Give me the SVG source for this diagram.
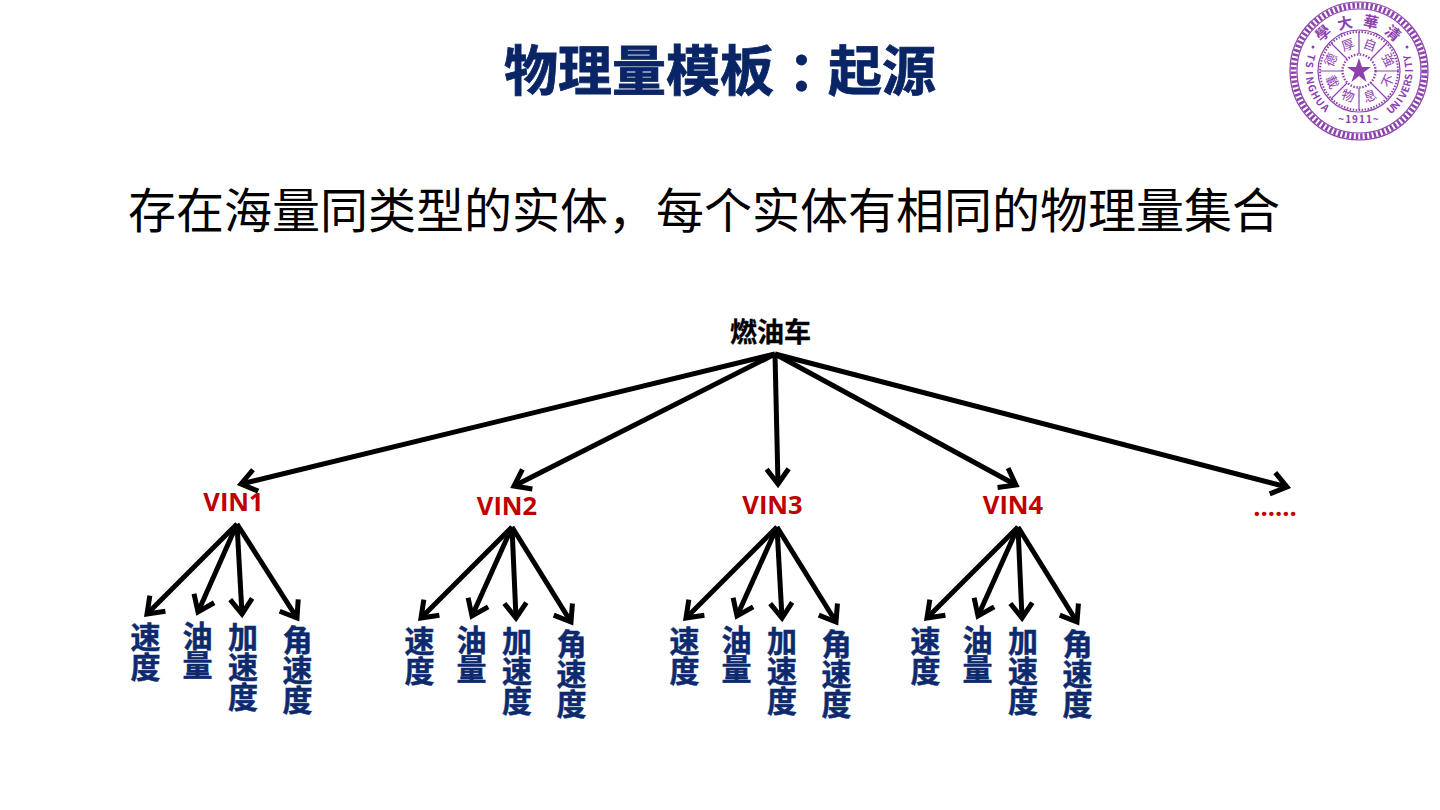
<svg xmlns="http://www.w3.org/2000/svg" width="1440" height="810" viewBox="0 0 1440 810">
<style>
text{font-family:"Noto Sans CJK SC","Noto Sans",sans-serif}
.title{font-size:54px;font-weight:700;fill:#0a2566;stroke:#0a2566;stroke-width:.8}
.sub{font-size:48px;fill:#000}
.root{font-size:27px;font-weight:700;fill:#000;stroke:#000;stroke-width:.3}
.vin{font-family:"Open Sans","Noto Sans",sans-serif;font-size:25.500px;font-weight:700;fill:#c00000;text-anchor:middle}
.leaf{font-size:30px;font-weight:700;fill:#0e2a6e;stroke:#0e2a6e;stroke-width:.5;text-anchor:middle}
.c{fill:none;stroke:#000;stroke-width:5;marker-end:url(#a)}
.s{fill:none;stroke:#8e44ad}
.st{fill:#8e3fb0;text-anchor:middle}
</style>
<defs>
<marker id="a" markerUnits="userSpaceOnUse" markerWidth="30" markerHeight="30" refX="22" refY="15" orient="auto" overflow="visible"><path d="M7 4 L22 15 L7 26" fill="none" stroke="#000" stroke-width="5" stroke-linecap="butt"/></marker>
<g id="leaves1">
<text class="leaf" x="145.500" y="648">速</text><text class="leaf" x="145.500" y="678">度</text>
<text class="leaf" x="197.500" y="647">油</text><text class="leaf" x="197.500" y="676">量</text>
<text class="leaf" x="243" y="648">加</text><text class="leaf" x="243" y="678">速</text><text class="leaf" x="243" y="708">度</text>
<text class="leaf" x="297.500" y="651">角</text><text class="leaf" x="297.500" y="681">速</text><text class="leaf" x="297.500" y="711">度</text>
</g>
</defs>
<rect width="1440" height="810" fill="#fff"/>
<text class="title" x="504 558 612 666 720 788 828 882" y="91">物理量模板：起源</text>
<text class="sub" x="128" y="228">存在海量同类型的实体，每个实体有相同的物理量集合</text>

<g id="connectors">
<path class="c" d="M775 354 L241 484"/>
<path class="c" d="M775 354 L514 486"/>
<path class="c" d="M775 354 L778 484"/>
<path class="c" d="M775 354 L1016 485"/>
<path class="c" d="M775 354 L1287 487"/>
<path class="c" d="M237 524 L147 614"/>
<path class="c" d="M237 524 L198 612"/>
<path class="c" d="M237 524 L242 614"/>
<path class="c" d="M237 524 L297 618"/>
<path class="c" d="M512 527 L421 618"/>
<path class="c" d="M512 527 L472 616"/>
<path class="c" d="M512 527 L516 618"/>
<path class="c" d="M512 527 L571 622"/>
<path class="c" d="M777 527 L686 618"/>
<path class="c" d="M777 527 L737 616"/>
<path class="c" d="M777 527 L782 618"/>
<path class="c" d="M777 527 L836 622"/>
<path class="c" d="M1018 527 L927 618"/>
<path class="c" d="M1018 527 L978 616"/>
<path class="c" d="M1018 527 L1022 618"/>
<path class="c" d="M1018 527 L1077 622"/>
</g>

<g id="root"><text class="root" x="730" y="342">燃油车</text></g>
<g id="vin1"><text class="vin" x="233.500" y="511">VIN1</text></g>
<g id="vin2"><text class="vin" x="507" y="515">VIN2</text></g>
<g id="vin3"><text class="vin" x="772.500" y="514">VIN3</text></g>
<g id="vin4"><text class="vin" x="1013" y="514">VIN4</text></g>
<g id="more"><text class="vin" x="1275" y="516">......</text></g>
<g id="vin1-leaves"><use href="#leaves1"/></g>
<g id="vin2-leaves"><use href="#leaves1" x="274" y="3.500"/></g>
<g id="vin3-leaves"><use href="#leaves1" x="539" y="3.500"/></g>
<g id="vin4-leaves"><use href="#leaves1" x="780" y="3.500"/></g>

<g id="seal">
<circle class="s" cx="1359" cy="71" r="69" stroke-width="1.200"/>
<circle class="s" cx="1359" cy="71" r="65.500" stroke-width="6" stroke-dasharray="2.500 2"/>
<circle class="s" cx="1359" cy="71" r="62" stroke-width="1.200"/>
<circle class="s" cx="1359" cy="71" r="41" stroke-width="1.200"/>
<circle class="s" cx="1359" cy="71" r="39" stroke-width="2" stroke-dasharray="1.500 1.500"/>
<circle class="s" cx="1359" cy="71" r="16.500" stroke-width="2.400" stroke-dasharray="1.500 1.500"/>
<path class="s" stroke-width="1.200" d="M1359 54V32M1359 88V110M1376 71H1398M1342 71H1320M1371 59L1387 43M1347 59L1331 43M1371 83L1387 99M1347 83L1331 99"/>
<polygon fill="#8e3fb0" points="1359,58 1362,67 1371,67 1363.500,72.500 1366.500,82 1359,76 1351.500,82 1354.500,72.500 1347,67 1356,67"/>
<circle cx="1313" cy="47" r="1.500" fill="#8e3fb0"/>
<circle cx="1407" cy="47" r="1.500" fill="#8e3fb0"/>
<g class="st" font-weight="700" font-size="15">
<text dy="5.500" transform="translate(1323 33) rotate(-40)">學</text>
<text dy="5.500" transform="translate(1345 23) rotate(-12)">大</text>
<text dy="5.500" transform="translate(1371 22) rotate(12)">華</text>
<text dy="5.500" transform="translate(1393 33) rotate(40)">清</text>
</g>
<g class="st" font-size="13">
<text dy="4.500" transform="translate(1370 45) rotate(20)">自</text>
<text dy="4.500" transform="translate(1388 60) rotate(65)">強</text>
<text dy="4.500" transform="translate(1388 81) rotate(-65)">不</text>
<text dy="4.500" transform="translate(1370 96) rotate(-20)">息</text>
<text dy="4.500" transform="translate(1348 96) rotate(20)">物</text>
<text dy="4.500" transform="translate(1332 82) rotate(65)">載</text>
<text dy="4.500" transform="translate(1331 60) rotate(-65)">德</text>
<text dy="4.500" transform="translate(1348 45) rotate(-20)">厚</text>
</g>
<text class="st" font-size="10" font-weight="700" x="1359" y="123" letter-spacing="1">~1911~</text>
<g class="st" font-size="10" font-weight="700">
<text dy="3.500" transform="translate(1311 57.200) rotate(106)">T</text>
<text dy="3.500" transform="translate(1309.400 64.900) rotate(97)">S</text>
<text dy="3.500" transform="translate(1309 72.700) rotate(88)">I</text>
<text dy="3.500" transform="translate(1309.900 80.500) rotate(79)">N</text>
<text dy="3.500" transform="translate(1312 88.100) rotate(70)">G</text>
<text dy="3.500" transform="translate(1315.400 95.400) rotate(61)">H</text>
<text dy="3.500" transform="translate(1319.800 102) rotate(52)">U</text>
<text dy="3.500" transform="translate(1325.200 107.800) rotate(43)">A</text>
<text dy="3.500" transform="translate(1391.100 109.300) rotate(-40)">U</text>
<text dy="3.500" transform="translate(1395.700 105) rotate(-47)">N</text>
<text dy="3.500" transform="translate(1399.700 100.100) rotate(-54)">I</text>
<text dy="3.500" transform="translate(1403 94.800) rotate(-62)">V</text>
<text dy="3.500" transform="translate(1405.600 89.100) rotate(-69)">E</text>
<text dy="3.500" transform="translate(1407.500 83.100) rotate(-76)">R</text>
<text dy="3.500" transform="translate(1408.700 76.900) rotate(-83)">S</text>
<text dy="3.500" transform="translate(1409 70.700) rotate(-90)">I</text>
<text dy="3.500" transform="translate(1408.600 64.400) rotate(-98)">T</text>
<text dy="3.500" transform="translate(1407.300 58) rotate(-105)">Y</text>
</g>
</g>
</svg>
